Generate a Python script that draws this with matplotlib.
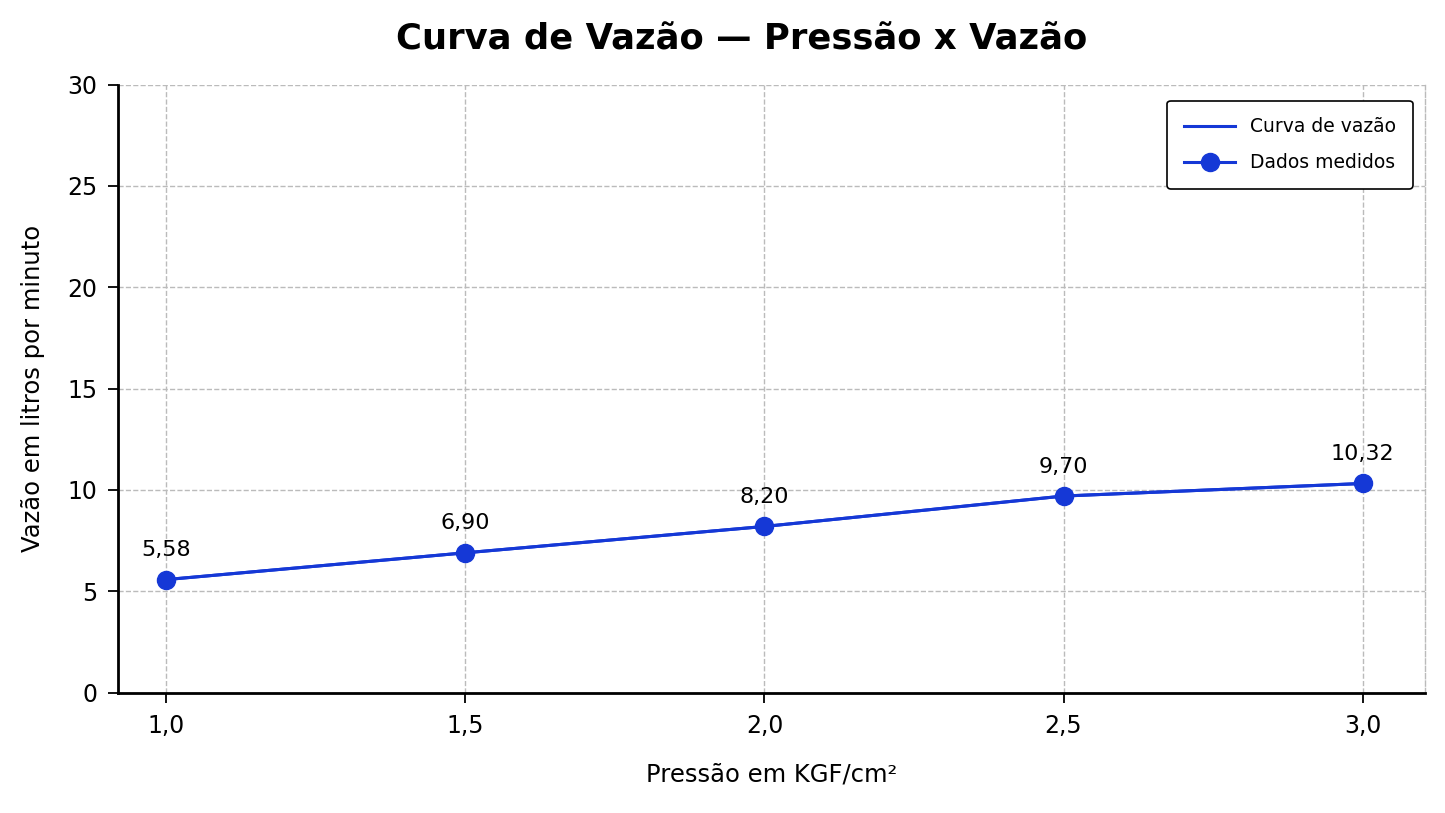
import numpy as np
import matplotlib
matplotlib.use("Agg")
import matplotlib.pyplot as plt

# Dados medidos
pressao = [1.0, 1.5, 2.0, 2.5, 3.0]
vazao = [5.58, 6.90, 8.20, 9.70, 10.32]
rotulos = ["5,58", "6,90", "8,20", "9,70", "10,32"]
xticks = [1.0, 1.5, 2.0, 2.5, 3.0]
xtick_labels = ["1,0", "1,5", "2,0", "2,5", "3,0"]
yticks = [0, 5, 10, 15, 20, 25, 30]

azul = "#1538d6"

plt.rcParams['font.family'] = ['DejaVu Sans']
fig, ax = plt.subplots(figsize=(14.45, 8.13), dpi=100)
fig.subplots_adjust(left=0.082, right=0.986, top=0.896, bottom=0.148)

ax.plot(pressao, vazao, color=azul, lw=2.2, label="Curva de vazão")
ax.plot(pressao, vazao, color=azul, lw=2.2, marker="o", markersize=13, label="Dados medidos")

for x, y, t in zip(pressao, vazao, rotulos):
    ax.annotate(t, (x, y), xytext=(0, 14), textcoords="offset points",
                ha="center", va="bottom", fontsize=16)

ax.set_xlim(0.92, 3.104)
ax.set_ylim(0, 30)
ax.set_xticks(xticks)
ax.set_xticklabels(xtick_labels)
ax.set_yticks(yticks)
ax.tick_params(labelsize=17, length=7, width=1.3, pad=8)

ax.grid(True, linestyle="--", color="#bbbbbb", linewidth=1)
ax.spines['top'].set_visible(False)
ax.spines['right'].set_linestyle("--")
ax.spines['right'].set_color("#bbbbbb")
ax.spines['right'].set_linewidth(1)
ax.spines['left'].set_linewidth(2)
ax.spines['bottom'].set_linewidth(2)

ax.set_xlabel("Pressão em KGF/cm²", fontsize=17.5, labelpad=18)
ax.set_ylabel("Vazão em litros por minuto", fontsize=17.5, labelpad=16)
fig.suptitle("Curva de Vazão — Pressão x Vazão", fontsize=25.5, fontweight="bold",
             x=0.513, y=0.972)

leg = ax.legend(loc="upper right", fontsize=13.5, frameon=True, fancybox=True,
                edgecolor="black", framealpha=1, borderpad=0.9, labelspacing=0.9,
                handlelength=2.7, borderaxespad=0, bbox_to_anchor=(0.9908, 0.9737))
leg.get_frame().set_linewidth(1.2)

fig.savefig("out.png", dpi=100, facecolor="white")
